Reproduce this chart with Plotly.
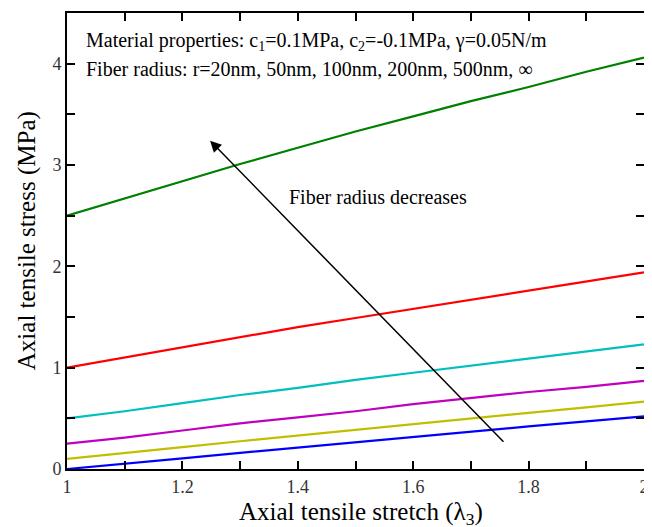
import plotly.graph_objects as go

stretch = [1.0, 1.1, 1.2, 1.3, 1.4, 1.5, 1.6, 1.7, 1.8, 1.9, 2.0]
stress_r20nm = [2.50, 2.67, 2.84, 3.01, 3.17, 3.33, 3.48, 3.63, 3.77, 3.92, 4.06]
stress_r50nm = [1.00, 1.10, 1.20, 1.30, 1.40, 1.49, 1.58, 1.67, 1.76, 1.85, 1.94]
stress_r100nm = [0.50, 0.57, 0.65, 0.73, 0.80, 0.88, 0.95, 1.02, 1.09, 1.16, 1.23]
stress_r200nm = [0.25, 0.31, 0.38, 0.45, 0.51, 0.57, 0.64, 0.70, 0.76, 0.81, 0.87]
stress_r500nm = [0.10, 0.155, 0.215, 0.274, 0.331, 0.387, 0.446, 0.50, 0.554, 0.608, 0.664]
stress_rinf = [0.0, 0.05, 0.105, 0.16, 0.213, 0.265, 0.32, 0.37, 0.42, 0.47, 0.52]

series = [
    ("r=20nm", stress_r20nm, "rgb(0,128,0)"),
    ("r=50nm", stress_r50nm, "rgb(255,0,0)"),
    ("r=100nm", stress_r100nm, "rgb(0,191,191)"),
    ("r=200nm", stress_r200nm, "rgb(191,0,191)"),
    ("r=500nm", stress_r500nm, "rgb(191,191,0)"),
    ("r=inf", stress_rinf, "rgb(0,0,255)"),
]

# tick marks every 0.1 (x) / 0.5 (y); labels only on the major ones
x_ticks = [1.0, 1.1, 1.2, 1.3, 1.4, 1.5, 1.6, 1.7, 1.8, 1.9, 2.0]
x_labels = ["1", "", "1.2", "", "1.4", "", "1.6", "", "1.8", "", "2"]
y_ticks = [0, 0.5, 1, 1.5, 2, 2.5, 3, 3.5, 4]
y_labels = ["0", "", "1", "", "2", "", "3", "", "4"]

FONT = "Liberation Serif, Times New Roman, serif"

fig = go.Figure()
for name, ys, col in series:
    fig.add_trace(go.Scatter(x=stretch, y=ys, mode="lines", name=name,
                             line=dict(color=col, width=2.2)))

axis_common = dict(showline=True, linewidth=2, linecolor="black", mirror="ticks",
                   ticks="inside", ticklen=8, tickwidth=2, tickcolor="black",
                   showgrid=False, zeroline=False, tickmode="array",
                   tickfont=dict(family=FONT, size=18, color="#333"))

fig.update_xaxes(range=[1, 2], tickvals=x_ticks, ticktext=x_labels, **axis_common)
fig.update_yaxes(range=[0, 4.5], tickvals=y_ticks, ticktext=y_labels, **axis_common)

annotations = [
    dict(x=0.029, y=0.937, xref="paper", yref="paper", xanchor="left", yanchor="middle",
         text="Material properties: c<sub>1</sub>=0.1MPa, c<sub>2</sub>=-0.1MPa, γ=0.05N/m",
         showarrow=False, font=dict(family=FONT, size=20, color="black")),
    dict(x=0.029, y=0.878, xref="paper", yref="paper", xanchor="left", yanchor="middle",
         text="Fiber radius: r=20nm, 50nm, 100nm, 200nm, 500nm, ∞",
         showarrow=False, font=dict(family=FONT, size=20, color="black")),
    dict(x=1.539, y=2.68, xref="x", yref="y", xanchor="center", yanchor="middle",
         text="Fiber radius decreases", showarrow=False,
         font=dict(family=FONT, size=20, color="black")),
    dict(x=1.248, y=3.24, ax=1.759, ay=0.255, xref="x", yref="y", axref="x", ayref="y",
         text="", showarrow=True, arrowhead=2, arrowsize=1.5, arrowwidth=1.5,
         arrowcolor="black"),
    dict(x=0.509, y=-0.098, xref="paper", yref="paper", xanchor="center", yanchor="middle",
         text="Axial tensile stretch (λ<sub>3</sub>)", showarrow=False,
         font=dict(family=FONT, size=25, color="black")),
    dict(x=-0.069, y=0.5, xref="paper", yref="paper", xanchor="center", yanchor="middle",
         text="Axial tensile stress (MPa)", showarrow=False, textangle=-90,
         font=dict(family=FONT, size=25, color="black")),
]

# the page body has an 8px margin, so the figure is sized/offset to compensate
fig.update_layout(width=644, height=519, margin=dict(l=59, r=7, t=3, b=58),
                  paper_bgcolor="white", plot_bgcolor="white", showlegend=False,
                  annotations=annotations)

fig.write_html("out.html")
